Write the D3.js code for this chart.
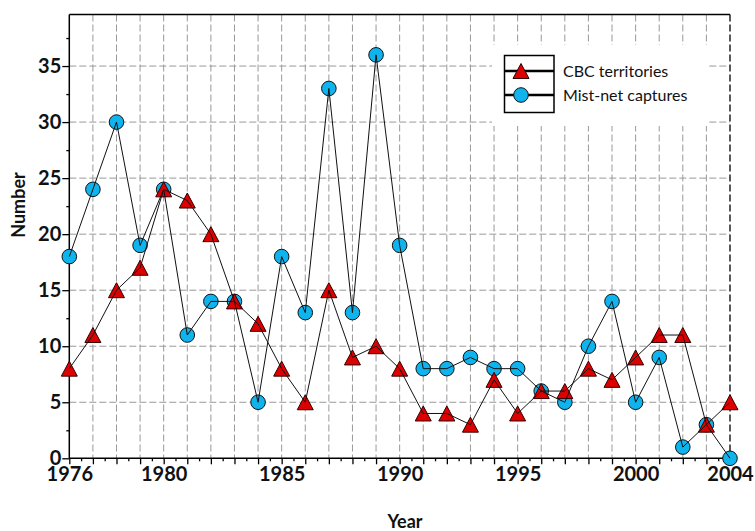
<!DOCTYPE html>
<html>
<head>
<meta charset="utf-8">
<script src="https://cdn.jsdelivr.net/npm/d3@7"></script>
<style>
  body { margin: 0; background: #fff; }
  text { font-family: Lato, "Open Sans", sans-serif; }
</style>
</head>
<body>
<script>
var years = d3.range(1976, 2005);
var cbc = [8, 11, 15, 17, 24, 23, 20, 14, 12, 8, 5, 15, 9, 10, 8, 4, 4, 3, 7, 4, 6, 6, 8, 7, 9, 11, 11, 3, 5];
var mistnet = [18, 24, 30, 19, 24, 11, 14, 14, 5, 18, 13, 33, 13, 36, 19, 8, 8, 9, 8, 8, 6, 5, 10, 14, 5, 9, 1, 3, 0];
var xLabels = [1976, 1980, 1985, 1990, 1995, 2000, 2004];
var yLabels = [0, 5, 10, 15, 20, 25, 30, 35];
var seriesNames = ["CBC territories", "Mist-net captures"];

var W = 755, H = 531;
var pLeft = 69.3, pRight = 730, pTop = 14.5, pBottom = 458.3;

var svg = d3.select("body").append("svg")
   .attr("width", W)
   .attr("height", H);

var x = d3.scaleLinear().domain([1976, 2004]).range([pLeft, pRight]);
var y = d3.scaleLinear().domain([0, 39.6]).range([pBottom, pTop]);

// grid
var grid = svg.append("g");
grid.selectAll("line.v")
   .data(years.slice(1, -1))
   .enter().append("line")
   .attr("x1", function(d) { return x(d) })
   .attr("x2", function(d) { return x(d) })
   .attr("y1", pTop).attr("y2", pBottom)
   .style("stroke", "#999")
   .style("stroke-dasharray", "7,3");
grid.selectAll("line.h")
   .data(yLabels.slice(1))
   .enter().append("line")
   .attr("x1", pLeft).attr("x2", pRight)
   .attr("y1", function(d) { return y(d) })
   .attr("y2", function(d) { return y(d) })
   .style("stroke", "#999")
   .style("stroke-dasharray", "7,3");

// frame
svg.append("line").attr("x1", pLeft).attr("x2", pRight).attr("y1", pTop).attr("y2", pTop)
   .style("stroke", "#000").style("stroke-width", 1.5);
svg.append("line").attr("x1", pRight).attr("x2", pRight).attr("y1", pTop).attr("y2", pBottom)
   .style("stroke", "#000").style("stroke-width", 1.3).style("stroke-dasharray", "7,3");

// legend background hides grid
svg.append("rect")
   .attr("x", 492).attr("y", 45).attr("width", 215).attr("height", 81)
   .style("fill", "#fff");

// axes
function styleAxis(g) {
   g.select(".domain").remove();
   g.selectAll(".tick line").style("stroke", "#000").style("stroke-width", 1.3);
   g.selectAll("text").style("font-family", "Lato, sans-serif")
      .style("font-weight", "bold").style("font-size", "20px").style("fill", "#111");
}

svg.append("g").attr("transform", "translate(" + pLeft + ",0)")
   .call(d3.axisLeft(y).tickValues(d3.range(2.5, 39, 5)).tickSize(3).tickFormat(""))
   .call(styleAxis);
svg.append("g").attr("transform", "translate(" + pLeft + ",0)")
   .call(d3.axisLeft(y).tickValues(yLabels).tickSize(7).tickPadding(1))
   .call(styleAxis);

svg.append("g").attr("transform", "translate(0," + pBottom + ")")
   .call(d3.axisBottom(x).tickValues(d3.range(1976.5, 2004, 1)).tickSize(3).tickFormat(""))
   .call(styleAxis);
svg.append("g").attr("transform", "translate(0," + pBottom + ")")
   .call(d3.axisBottom(x).tickValues(years).tickSize(6).tickPadding(3)
      .tickFormat(function(d) { return xLabels.indexOf(d) >= 0 ? d : "" }))
   .call(styleAxis);

svg.append("line").attr("x1", pLeft).attr("x2", pLeft).attr("y1", pTop).attr("y2", pBottom)
   .style("stroke", "#000").style("stroke-width", 1.5);
svg.append("line").attr("x1", pLeft).attr("x2", pRight).attr("y1", pBottom).attr("y2", pBottom)
   .style("stroke", "#000").style("stroke-width", 1.5);

// axis titles
svg.append("text")
   .attr("x", 405).attr("y", 528)
   .attr("text-anchor", "middle")
   .style("font-weight", "bold").style("font-size", "18px").style("fill", "#111")
   .text("Year");
svg.append("text")
   .attr("transform", "translate(25,205) rotate(-90)")
   .attr("text-anchor", "middle")
   .style("font-weight", "bold").style("font-size", "18px").style("fill", "#111")
   .text("Number");

// series
var tri = "M0,-7.5L8,7.5L-8,7.5Z";
var line = d3.line()
   .x(function(d, i) { return x(years[i]) })
   .y(function(d) { return y(d) });

svg.append("g").selectAll("circle")
   .data(mistnet)
   .enter().append("circle")
   .attr("cx", function(d, i) { return x(years[i]) })
   .attr("cy", function(d) { return y(d) })
   .attr("r", 7.3)
   .style("fill", "#0fb4ee")
   .style("stroke", "#111")
   .style("stroke-width", 1);

svg.append("g").selectAll("path")
   .data(cbc)
   .enter().append("path")
   .attr("d", tri)
   .attr("transform", function(d, i) { return "translate(" + x(years[i]) + "," + y(d) + ")" })
   .style("fill", "#dd0000")
   .style("stroke", "#330000")
   .style("stroke-width", 1);

svg.append("path").datum(mistnet)
   .attr("d", line)
   .style("fill", "none").style("stroke", "#111").style("stroke-width", 1);
svg.append("path").datum(cbc)
   .attr("d", line)
   .style("fill", "none").style("stroke", "#111").style("stroke-width", 1);

// legend
var lg = svg.append("g");
lg.append("rect")
   .attr("x", 504.5).attr("y", 55.5).attr("width", 49.5).attr("height", 57)
   .style("fill", "#fff").style("stroke", "#000").style("stroke-width", 1.5);
[71, 95].forEach(function(ly, i) {
   lg.append("line").attr("x1", 504.5).attr("x2", 554).attr("y1", ly).attr("y2", ly)
      .style("stroke", "#000").style("stroke-width", 2.5);
   lg.append("text").attr("x", 563).attr("y", ly + 5.5)
      .style("font-size", "16px").style("fill", "#111")
      .text(seriesNames[i]);
});
lg.append("path").attr("d", tri).attr("transform", "translate(521,71)")
   .style("fill", "#dd0000").style("stroke", "#330000");
lg.append("circle").attr("cx", 521).attr("cy", 95).attr("r", 7.3)
   .style("fill", "#0fb4ee").style("stroke", "#111");
</script>
</body>
</html>
